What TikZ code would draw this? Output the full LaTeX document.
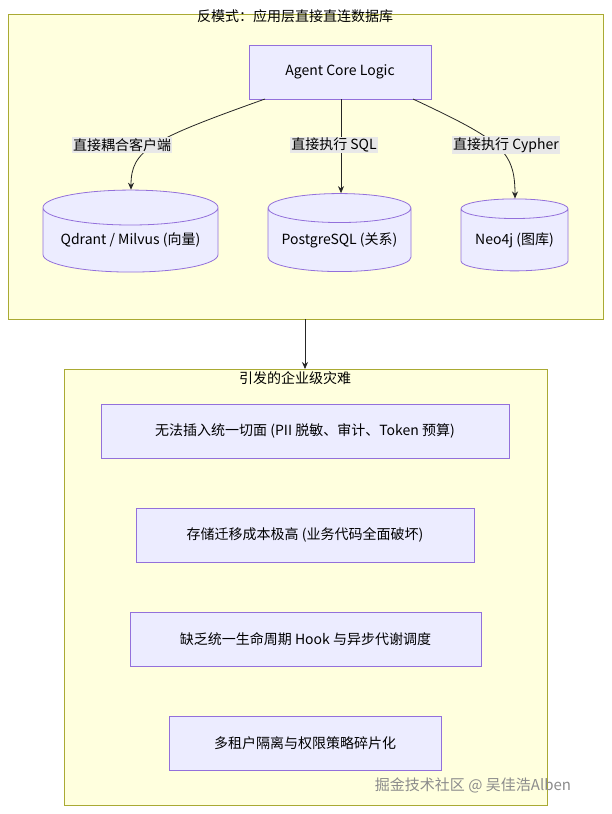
\documentclass[tikz,border=0pt]{standalone}
\usepackage{fontspec}
\setmainfont{Noto Sans CJK SC}
\usetikzlibrary{shapes.geometric,arrows.meta}
\definecolor{clfill}{HTML}{FFFFDE}
\definecolor{clline}{HTML}{AAAA33}
\definecolor{nfill}{HTML}{ECECFF}
\definecolor{nline}{HTML}{9370DB}
\definecolor{lbl}{HTML}{E8E8E8}
\begin{document}
\begin{tikzpicture}[x=1pt,y=-1pt,
  font=\fontsize{14}{16}\selectfont,
  cluster/.style={draw=clline,fill=clfill,line width=0.8pt},
  box/.style={draw=nline,fill=nfill,line width=0.8pt,rectangle,inner sep=0pt},
  db/.style={draw=nline,fill=nfill,line width=0.8pt,cylinder,shape border rotate=90,aspect=0.25,inner sep=0pt},
  elab/.style={fill=lbl,inner sep=1pt},
  arr/.style={draw=black!85,line width=0.8pt,-{Stealth[length=7pt,width=6pt]}}]
\useasboundingbox (0,0) rectangle (611,814);
\fill[white] (0,0) rectangle (611,814);
\draw[cluster] (8,14) rectangle (603,319);
\node (t1) at (295,16) {反模式：应用层直接直连数据库};
\node[box,minimum width=182pt,minimum height=54pt] (agent) at (340,72) {Agent Core Logic};
\node[db,minimum width=175pt,minimum height=82pt] (q) at (130.5,240) {Qdrant / Milvus (向量)};
\node[db,minimum width=143pt,minimum height=78pt] (p) at (339.5,240) {PostgreSQL (关系)};
\node[db,minimum width=107pt,minimum height=72pt] (n) at (514.5,240) {Neo4j (图库)};
\coordinate (a1) at (265,99);
\coordinate (a3) at (413,99);
\draw[arr] (a1) .. controls (150,140) and (131,150) .. (q.north-|131,0);
\draw[arr] (agent.south-|341,0) -- (p.north-|341,0);
\draw[arr] (a3) .. controls (500,140) and (515,150) .. (n.north-|515,0);
\node[elab] at (122,145) {直接耦合客户端};
\node[elab] at (334,145) {直接执行 SQL};
\node[elab] at (506,145) {直接执行 Cypher};
\draw[cluster] (64,369) rectangle (547,805);
\node (t2) at (295,378) {引发的企业级灾难};
\coordinate (c1) at (305,319);
\coordinate (c2) at (305,369);
\draw[arr] (c1) -- (c2);
\node[box,minimum width=408pt,minimum height=54pt] (b1) at (305,431) {无法插入统一切面 (PII 脱敏、审计、Token 预算)};
\node[box,minimum width=338pt,minimum height=54pt] (b2) at (305,535) {存储迁移成本极高 (业务代码全面破坏)};
\node[box,minimum width=351pt,minimum height=54pt] (b3) at (305.5,639) {缺乏统一生命周期 Hook 与异步代谢调度};
\node[box,minimum width=272pt,minimum height=54pt] (b4) at (305,743) {多租户隔离与权限策略碎片化};
\node[text=black!45,font=\fontsize{15}{17}\selectfont] (wm) at (473,785) {掘金技术社区 @ 吴佳浩Alben};
\end{tikzpicture}
\end{document}
